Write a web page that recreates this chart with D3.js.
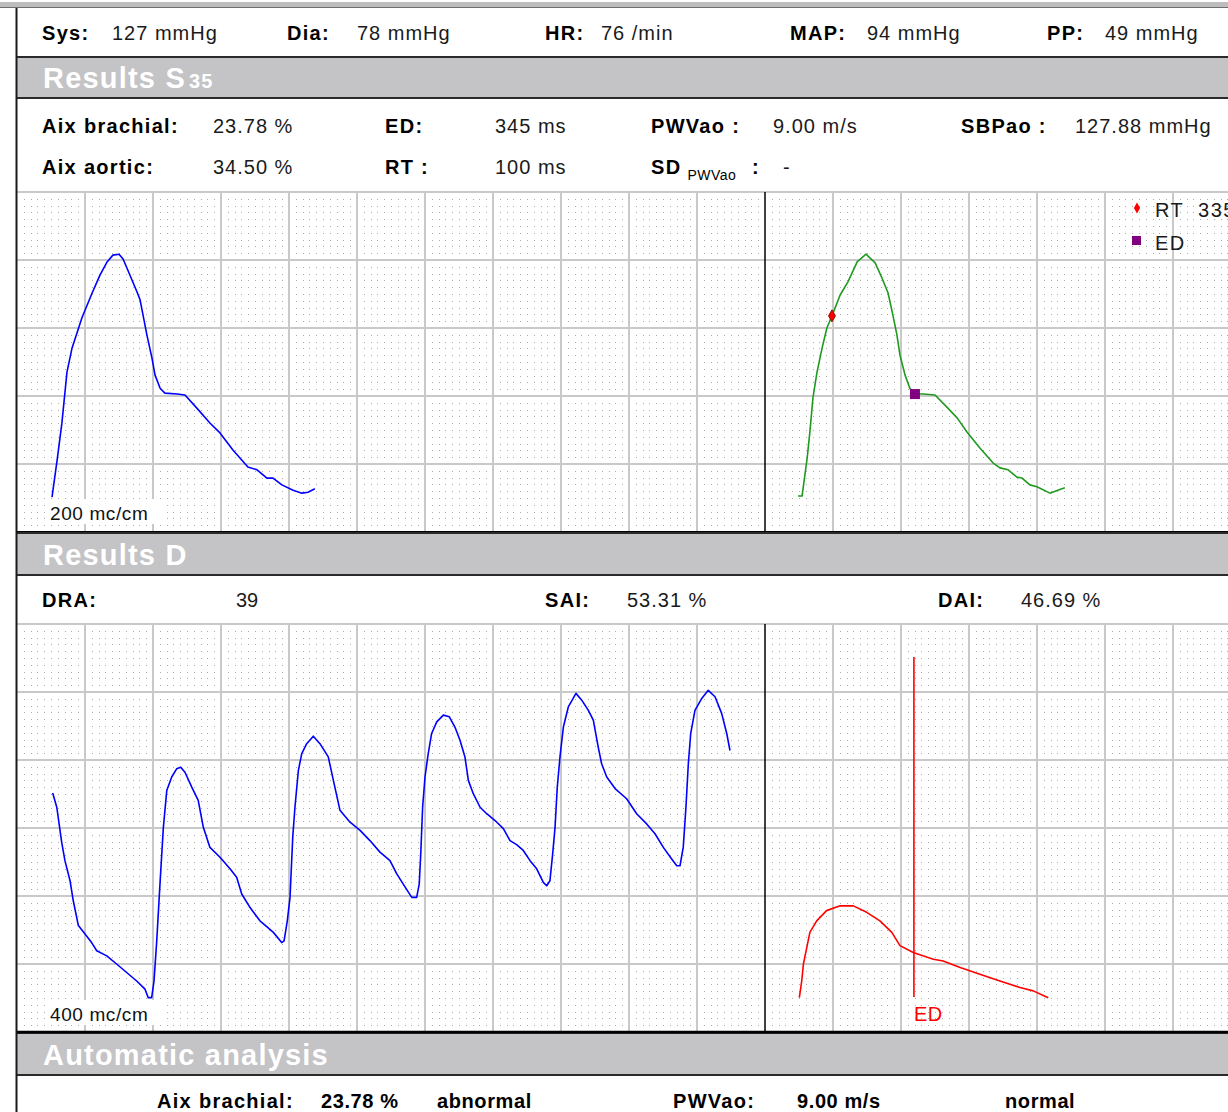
<!DOCTYPE html>
<html>
<head>
<meta charset="utf-8">
<title>Pulse wave analysis</title>
<script src="https://cdn.jsdelivr.net/npm/d3@7"></script>
<style>
  body { margin: 0; background: #ffffff; }
  text { font-family: "Liberation Sans", Arial, sans-serif; }
</style>
</head>
<body>
<svg id="drawing_region"></svg>
<script>
// ---- values ----
const header_labels = ['Sys:', 'Dia:', 'HR:', 'MAP:', 'PP:'];
const header_values = ['127 mmHg', '78 mmHg', '76 /min', '94 mmHg', '49 mmHg'];

const s35_labels_1 = ['Aix brachial:', 'ED:', 'PWVao :', 'SBPao :'];
const s35_values_1 = ['23.78 %', '345 ms', '9.00 m/s', '127.88 mmHg'];
const s35_labels_2 = ['Aix aortic:', 'RT :'];
const s35_values_2 = ['34.50 %', '100 ms'];
const sd_value = '-';

const d_labels = ['DRA:', 'SAI:', 'DAI:'];
const d_values = ['39', '53.31 %', '46.69 %'];

const auto_labels = ['Aix brachial:', 'PWVao:'];
const auto_values = ['23.78 %', '9.00 m/s'];
const auto_verdicts = ['abnormal', 'normal'];

const scale_labels = ['200 mc/cm', '400 mc/cm'];
const legend_labels = ['RT  335', 'ED'];

// brachial pulse, S35 left panel : [time ms, pressure mmHg]
const brachial_wave = [
  [103,77.2],[118,84.8],[132,92.4],[147,102.9],[162,107.9],[191,114.1],[221,119.2],
  [244,122.9],[265,125.6],[282,127.0],[300,127.2],[312,126.2],[332,122.9],[353,119.4],
  [362,117.8],[382,110.6],[397,105.8],[406,102.3],[421,99.6],[435,98.6],[471,98.4],
  [494,98.2],[529,95.5],[568,92.4],[597,90.4],[635,86.9],[679,83.4],[706,82.8],
  [735,81.1],[753,81.1],[779,79.7],[812,78.6],[838,78.0],[856,78.2],[876,78.9]
];

// aortic pulse, S35 right panel : [time ms, pressure mmHg]
const aortic_wave = [
  [97,77.4],[109,77.4],[124,85.2],[132,90.6],[141,97.6],[153,102.9],[168,107.9],
  [182,112.0],[197,114.5],[221,118.8],[244,121.5],[271,125.6],[297,127.2],[324,125.4],
  [344,122.3],[362,119.2],[376,114.7],[388,110.6],[397,106.4],[412,102.3],[426,99.6],
  [441,98.4],[465,98.4],[500,98.2],[535,95.7],[565,93.5],[594,90.6],[632,87.3],
  [671,84.2],[691,83.2],[715,82.8],[741,81.3],[756,81.1],[779,79.7],[800,79.3],
  [838,78.0],[861,78.6],[882,79.1]
];
const marker_names = ['RT', 'ED'];
const marker_times = [197, 441];
const marker_values = [114.5, 98.4];

// D recording, left panel : [time ms, amplitude]
const d_recording = [
  [210,70.3],[234,66.1],[263,55.8],[282,50.4],[312,44.5],[331,38.6],[361,31.3],[400,28.8],
  [439,26.3],[469,23.9],[528,22.4],[586,20.0],[645,17.5],[704,15.0],[753,12.6],[772,10.1],
  [792,10.1],[806,15.0],[822,26.8],[841,43.5],[861,60.2],[881,71.0],[910,75.0],[939,77.4],
  [963,77.9],[988,76.4],[1028,72.0],[1066,68.1],[1096,60.2],[1135,54.3],[1194,51.4],
  [1253,48.0],[1292,45.5],[1322,40.6],[1371,36.6],[1429,32.7],[1469,31.0],[1508,29.3],
  [1557,26.3],[1571,26.8],[1590,32.7],[1606,39.6],[1622,57.3],[1635,66.1],[1655,76.9],
  [1675,81.9],[1704,84.8],[1743,87.0],[1782,84.8],[1831,80.9],[1861,74.0],[1900,65.2],
  [1959,61.7],[2018,59.3],[2076,56.3],[2135,52.9],[2194,50.4],[2234,46.5],[2272,43.5],
  [2322,39.6],[2351,39.6],[2366,43.5],[2375,52.4],[2386,66.1],[2400,75.0],[2419,81.9],
  [2439,87.8],[2469,91.2],[2508,93.2],[2543,92.7],[2576,89.7],[2606,85.8],[2635,80.9],
  [2655,74.0],[2684,70.1],[2724,66.1],[2763,64.2],[2812,62.2],[2861,59.8],[2900,56.3],
  [2939,55.1],[2978,53.4],[3018,50.4],[3057,48.0],[3096,44.0],[3116,43.0],[3135,44.5],
  [3151,52.4],[3165,60.2],[3178,72.0],[3194,80.9],[3214,89.7],[3243,95.6],[3288,99.6],
  [3322,97.6],[3361,94.6],[3390,91.7],[3419,83.8],[3439,78.9],[3469,75.0],[3518,71.6],
  [3586,68.6],[3645,64.2],[3704,61.2],[3753,58.3],[3802,54.3],[3851,50.9],[3881,48.9],
  [3900,48.9],[3919,54.3],[3935,66.1],[3949,78.9],[3963,87.8],[3988,94.6],[4028,98.1],
  [4066,100.5],[4106,98.6],[4145,93.7],[4175,87.8],[4194,82.8]
];

// D averaged pulse, right panel : [time ms, amplitude]
const d_pulse = [
  [101,10.1],[108,15.0],[113,20.0],[123,24.9],[132,29.3],[152,32.7],[181,35.7],[221,37.1],
  [260,37.1],[299,35.2],[338,32.7],[373,29.3],[397,25.4],[436,23.4],[495,21.4],[524,20.9],
  [574,19.0],[632,17.0],[691,15.0],[750,13.1],[789,12.1],[833,10.1]
];
const d_ed_time = 438;
const d_ed_span = [10.3, 110.3];

// ---- layout ----
const W = 1228, H = 1112;
const X0 = 17, XMID = 765, XEND = 1241;
const upper = {top: 192, bottom: 532};
const lower = {top: 624, bottom: 1032};
const BAND = '#c4c3c6';

const svg = d3.select('#drawing_region')
    .attr('width', W)
    .attr('height', H);

const x_upper_left = d3.scaleLinear().domain([0, 2200]).range([X0, XMID]);
const x_lower_left = d3.scaleLinear().domain([0, 4400]).range([X0, XMID]);
const x_right = d3.scaleLinear().domain([0, 1400]).range([XMID, XEND]);
const y_upper = d3.scaleLinear().domain([70, 140]).range([upper.bottom, upper.top]);
const y_lower = d3.scaleLinear().domain([0, 120]).range([lower.bottom, lower.top]);

const cell = x_upper_left(200) - x_upper_left(0);

// dotted minor grid as a pattern, one per panel so the phase matches
const defs = svg.append('defs');
[['dots_upper', upper.top], ['dots_lower', lower.top]].forEach(([id, y0]) => {
    const p = defs.append('pattern')
        .attr('id', id)
        .attr('patternUnits', 'userSpaceOnUse')
        .attr('x', X0).attr('y', y0)
        .attr('width', cell).attr('height', cell);
    const k = d3.range(1, 10).map(i => Math.round(i * cell / 10));
    k.forEach(a => k.forEach(b => {
        p.append('rect').attr('x', a).attr('y', b)
            .attr('width', 1).attr('height', 1).attr('fill', '#ababab');
    }));
});

function text(x, y, s, o = {}) {
    return svg.append('text')
        .attr('x', x).attr('y', y)
        .attr('font-size', o.size || 20)
        .attr('font-weight', o.bold ? 'bold' : 'normal')
        .attr('letter-spacing', o.ls !== undefined ? o.ls : (o.bold ? 1.3 : 1))
        .attr('fill', o.fill || (o.bold ? '#000' : '#1a1a1a'))
        .text(s);
}

function hline(y, color, w) {
    svg.append('line').attr('x1', X0).attr('x2', W).attr('y1', y).attr('y2', y)
        .attr('stroke', color).attr('stroke-width', w);
}

function band(y0, y1, title, sub) {
    svg.append('rect').attr('x', X0).attr('y', y0).attr('width', W - X0).attr('height', y1 - y0)
        .attr('fill', BAND);
    hline(y0, '#2a2a2a', 2);
    hline(y1, '#2a2a2a', 2);
    const t = text(43, y1 - 10, title, {bold: true, size: 29, ls: 1.2, fill: '#ffffff'});
    if (sub) t.append('tspan').attr('font-size', 20).attr('dx', 3).text(sub);
}

function grid(panel, xl, xr, y, xStepL, xStepR, yStep, patternId) {
    svg.append('rect')
        .attr('x', X0).attr('y', panel.top)
        .attr('width', XEND - X0).attr('height', panel.bottom - panel.top)
        .attr('fill', `url(#${patternId})`);

    const g = svg.append('g').attr('stroke', '#c9c9c9').attr('stroke-width', 2);
    const xs = d3.range(xStepL, xl.domain()[1], xStepL).map(xl)
        .concat(d3.range(xStepR, xr.domain()[1], xStepR).map(xr));
    g.selectAll(null).data(xs).join('line')
        .attr('x1', d => d).attr('x2', d => d)
        .attr('y1', panel.top).attr('y2', panel.bottom);
    g.selectAll(null).data(d3.range(y.domain()[0] + yStep, y.domain()[1] + 1, yStep)).join('line')
        .attr('x1', X0).attr('x2', W)
        .attr('y1', d => y(d)).attr('y2', d => y(d));

    // divider between the two sub-charts
    svg.append('line').attr('x1', XMID).attr('x2', XMID)
        .attr('y1', panel.top).attr('y2', panel.bottom)
        .attr('stroke', '#000').attr('stroke-width', 1.5);
}

function wave(data, xs, ys, color) {
    const line = d3.line().x(d => xs(d[0])).y(d => ys(d[1]));
    svg.append('path')
        .attr('d', line(data))
        .attr('fill', 'none')
        .attr('stroke', color)
        .attr('stroke-width', 1.6)
        .attr('stroke-linejoin', 'round');
}

function scaleNote(yBase, s) {
    svg.append('rect').attr('x', 47).attr('y', yBase - 21).attr('width', 114).attr('height', 25)
        .attr('fill', '#ffffff');
    text(50, yBase, s, {size: 19, ls: 0.6, fill: '#111'});
}

// ---- frame ----
svg.append('rect').attr('x', 0).attr('y', 2).attr('width', W).attr('height', 5).attr('fill', '#bdbdbd');
svg.append('line').attr('x1', 0).attr('x2', W).attr('y1', 7.5).attr('y2', 7.5)
    .attr('stroke', '#6e6e6e').attr('stroke-width', 1);

// header
const header_lx = [42, 287, 545, 790, 1047];
const header_vx = [112, 357, 601, 867, 1105];
header_labels.forEach((s, i) => text(header_lx[i], 40, s, {bold: true}));
header_values.forEach((s, i) => text(header_vx[i], 40, s));

band(57, 98, 'Results S', '35');

// S35 figures
const info_lx = [42, 385, 651, 961];
const info_vx = [213, 495, 773, 1075];
s35_labels_1.forEach((s, i) => text(info_lx[i], 133, s, {bold: true}));
s35_values_1.forEach((s, i) => text(info_vx[i], 133, s));
s35_labels_2.forEach((s, i) => text(info_lx[i], 174, s, {bold: true}));
s35_values_2.forEach((s, i) => text(info_vx[i], 174, s));
text(651, 174, 'SD', {bold: true})
    .append('tspan').attr('font-size', 14).attr('font-weight', 'normal')
    .attr('letter-spacing', 0.5).attr('dx', 6).attr('dy', 6).text('PWVao');
text(752, 174, ':', {bold: true});
text(783, 174, sd_value);

// S35 charts
grid(upper, x_upper_left, x_right, y_upper, 200, 200, 14, 'dots_upper');
wave(brachial_wave, x_upper_left, y_upper, '#0000ff');
wave(aortic_wave, x_right, y_upper, '#1f9a1f');

const rt_symbol = d3.symbol(d3.symbolDiamond, 42);
marker_names.forEach((name, i) => {
    const cx = x_right(marker_times[i]), cy = y_upper(marker_values[i]);
    if (name === 'RT') {
        svg.append('path').attr('d', rt_symbol()).attr('transform', `translate(${cx},${cy})`)
            .attr('fill', '#ff0000').attr('stroke', '#8a1a00').attr('stroke-width', 1);
    } else {
        svg.append('rect').attr('x', cx - 5).attr('y', cy - 5).attr('width', 10).attr('height', 10)
            .attr('fill', '#800080');
    }
});

// legend
svg.append('path').attr('d', d3.symbol(d3.symbolDiamond, 34)()).attr('transform', 'translate(1137,208)')
    .attr('fill', '#ff0000');
svg.append('rect').attr('x', 1132).attr('y', 236).attr('width', 9).attr('height', 9).attr('fill', '#800080');
text(1155, 217, legend_labels[0], {size: 20, ls: 1.5}).attr('xml:space', 'preserve').style('white-space', 'pre');
text(1155, 250, legend_labels[1], {size: 20, ls: 1.5});

scaleNote(520, scale_labels[0]);

svg.append('line').attr('x1', X0).attr('x2', W).attr('y1', 532).attr('y2', 532)
    .attr('stroke', '#000').attr('stroke-width', 2);

band(533, 575, 'Results D');

// D figures
const d_lx = [42, 545, 938];
const d_vx = [236, 627, 1021];
d_labels.forEach((s, i) => text(d_lx[i], 607, s, {bold: true}));
d_values.forEach((s, i) => text(d_vx[i], 607, s, {ls: i === 0 ? 0 : 1}));

// D charts
grid(lower, x_lower_left, x_right, y_lower, 400, 200, 20, 'dots_lower');
wave(d_recording, x_lower_left, y_lower, '#0000ff');
wave(d_pulse, x_right, y_lower, '#ff0000');

svg.append('line')
    .attr('x1', x_right(d_ed_time)).attr('x2', x_right(d_ed_time))
    .attr('y1', y_lower(d_ed_span[1])).attr('y2', y_lower(d_ed_span[0]))
    .attr('stroke', '#ff0000').attr('stroke-width', 1.6);
text(x_right(d_ed_time), 1021, 'ED', {size: 20, ls: 0.5, fill: '#ff0000'});

scaleNote(1021, scale_labels[1]);

band(1033, 1075, 'Automatic analysis');
svg.append('line').attr('x1', X0).attr('x2', W).attr('y1', 1032).attr('y2', 1032)
    .attr('stroke', '#000').attr('stroke-width', 2.5);

// automatic analysis
const auto_lx = [157, 673];
const auto_vx = [321, 797];
const auto_rx = [437, 1005];
auto_labels.forEach((s, i) => text(auto_lx[i], 1108, s, {bold: true}));
auto_values.forEach((s, i) => text(auto_vx[i], 1108, s, {bold: true, ls: 0.6}));
auto_verdicts.forEach((s, i) => text(auto_rx[i], 1108, s, {bold: true, ls: 0.6}));

// left border
svg.append('line').attr('x1', 16.5).attr('x2', 16.5).attr('y1', 8).attr('y2', H)
    .attr('stroke', '#1a1a1a').attr('stroke-width', 2);
</script>
</body>
</html>
